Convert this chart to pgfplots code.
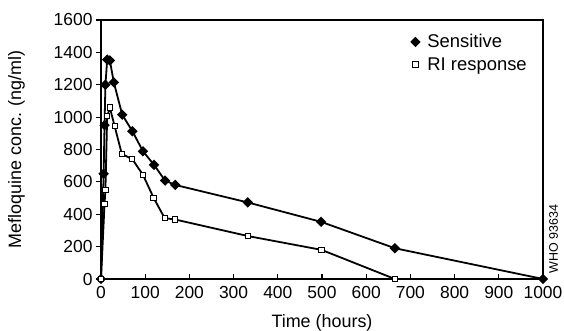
\documentclass[border=0pt]{standalone}
\usepackage{fontspec}
\setmainfont{Liberation Sans}
\usepackage{pgfplots}
\pgfplotsset{compat=1.18}
\begin{document}
\begin{tikzpicture}
\path[use as bounding box] (-101bp,-52bp) rectangle (463bp,279bp);
\begin{axis}[
  at={(0,0)}, anchor=south west,
  scale only axis, width=442bp, height=259bp,
  xmin=0, xmax=1000, ymin=0, ymax=1600,
  xtick={0,100,...,1000}, ytick={0,200,...,1600},
  axis line style={line width=1.4pt},
  x tick style={line width=1.1pt, black}, y tick style={line width=1.1pt, black},
  xtick pos=bottom, ytick pos=left,
  x tick label style={yshift=-4bp},
  tick align=inside,
  ytick align=outside,
  major tick length=5bp,
  /pgf/number format/assume math mode=true,
  /pgf/number format/set thousands separator={},
  tick label style={font=\fontsize{17.5}{19}\selectfont},
  xlabel={Time (hours)}, ylabel={Mefloquine conc. (ng/ml)},
  label style={font=\fontsize{18}{21}\selectfont},
  xlabel style={yshift=-9bp},
  ylabel style={yshift=22bp},
  legend style={at={(0.975,0.96)}, anchor=north east, draw=none, fill=none,
    font=\fontsize{18.5}{21}\selectfont, row sep=4pt,
    legend cell align=left},
  legend image code/.code={\draw[draw=none] (-0.1cm,0) -- (0.35cm,0); \draw[#1] plot coordinates {(0cm,0cm)};},
]
\addplot[black, line width=1.8pt, mark=square*, mark size=2.8bp, mark options={fill=black, solid, rotate=45}] coordinates {
(0,0) (6,650) (8,950) (10,1200) (14,1355) (20,1350) (29,1215) (48,1015) (71,913) (95,789) (120,705) (145,608) (168,581) (332,473) (498,353) (665,190) (1000,0)
};
\addlegendentry{Sensitive}
\addplot[black, line width=1.8pt, mark=square*, mark size=2.6bp, mark options={fill=white, line width=1pt}] coordinates {
(0,0) (8,463) (10,549) (14,1005) (20,1059) (31,943) (47,773) (71,740) (95,643) (119,502) (144,376) (167,368) (333,265) (499,180) (665,0)
};
\addlegendentry{RI response}
\end{axis}
\node[rotate=90, font=\fontsize{12.5}{13}\selectfont, anchor=center, xscale=1] at (452.5bp,40bp) {WHO 93634};
\end{tikzpicture}
\end{document}
